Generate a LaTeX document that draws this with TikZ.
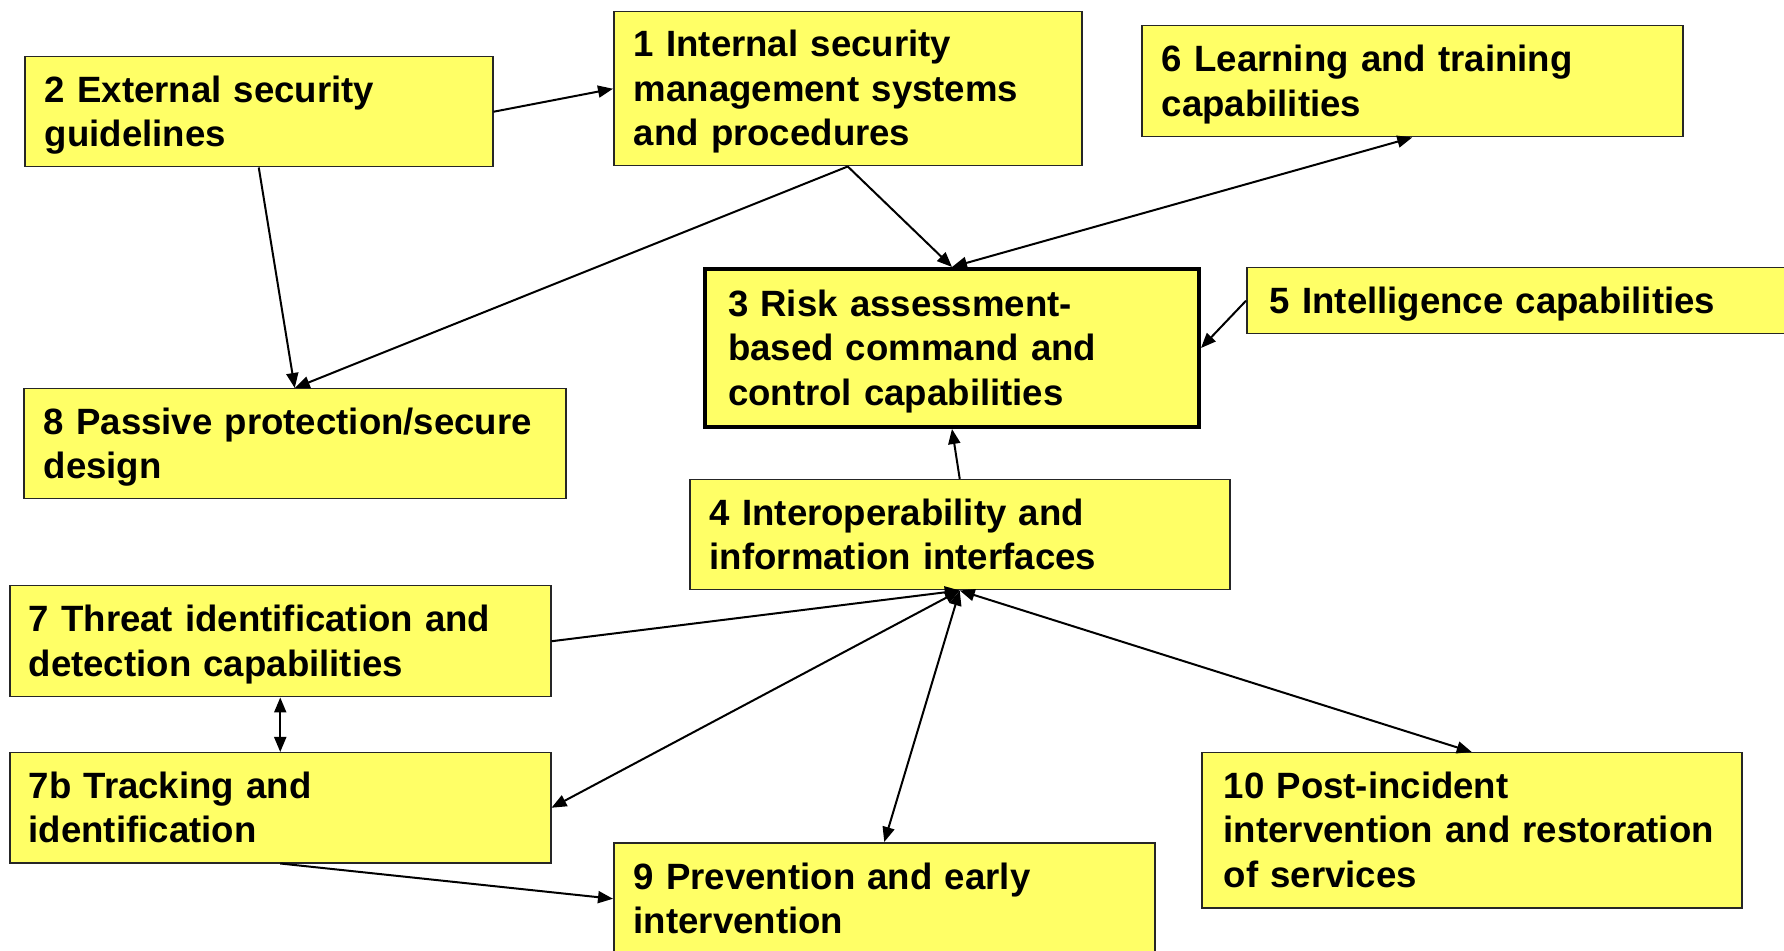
\documentclass[tikz,border=0pt]{standalone}
\usepackage{xcolor}
\usepackage{fontspec}
\setmainfont{Liberation Sans}
\usepackage{tikz}
\usetikzlibrary{arrows.meta}

\definecolor{boxyellow}{HTML}{FFFF66}

\begin{document}
\begin{tikzpicture}[x=0.5pt,y=-0.5pt,>={Triangle[length=7.5pt,width=6pt]}]
    \tikzstyle{block} = [rectangle, draw=black!85, line width=0.75pt, fill=boxyellow, anchor=north west, align=left, inner xsep=10pt, inner ysep=0pt, font=\fontsize{18.3pt}{22.25pt}\selectfont\bfseries,
        execute at begin node={\rule{0pt}{0.9em}}, execute at end node={\rule[-0.21em]{0pt}{0.21em}}]
    \tikzstyle{link} = [draw, line width=1pt]
    \useasboundingbox (0,0) rectangle (1784,951);
    % top row
    \node [block, text width=214pt, minimum height=55pt] (Ext) at (24,56) {2 External security\\guidelines};
    \node [block, text width=214pt, minimum height=77pt] (Int) at (613,11) {1 Internal security\\management systems\\and procedures};
    \node [block, text width=250.5pt, minimum height=55.5pt] (Learn) at (1141,25) {6 Learning and training\\capabilities};
    % middle
    \node [block, draw=black, line width=2pt, inner xsep=11.5pt, text width=224pt, minimum height=79pt] (Risk) at (703,267) {3 Risk assessment-\\based command and\\control capabilities};
    \node [block, inner xsep=11.5pt, text width=259pt, minimum height=33pt] (Intel) at (1246,267) {5 Intelligence capabilities};
    \node [block, text width=251pt, minimum height=55pt] (Pass) at (23,388) {8 Passive protection/secure\\design};
    \node [block, text width=250pt, minimum height=55pt] (Inter) at (689,479) {4 Interoperability and\\information interfaces};
    % bottom
    \node [block, inner xsep=9.5pt, text width=251.5pt, minimum height=55.5pt] (Threat) at (9,585) {7 Threat identification and\\detection capabilities};
    \node [block, inner xsep=9.5pt, text width=251.5pt, minimum height=55pt] (Track) at (9,752) {7b Tracking and\\identification};
    \node [block, text width=250.5pt, minimum height=56pt] (Prev) at (613,842) {9 Prevention and early\\intervention};
    \node [block, inner xsep=11pt, text width=248pt, minimum height=77.5pt] (Post) at (1201,752) {10 Post-incident\\intervention and restoration\\of services};

    \path [link, ->] (Ext.east) -- (Int.west);
    \path [link, ->] (Ext.south) -- (Pass.north);
    \path [link, ->] (Int.south) -- (Pass.north);
    \path [link, ->] (Int.south) -- (Risk.north);
    \path [link, <->] (Risk.north) -- (Learn.south);
    \path [link, ->] (Intel.west) -- (Risk.east);
    \path [link, ->] (Inter.north) -- (Risk.south);
    \path [link, ->] (Threat.east) -- (Inter.south);
    \path [link, <->] (Inter.south) -- (Track.east);
    \path [link, <->] (Inter.south) -- (Prev.north);
    \path [link, <->] (Inter.south) -- (Post.north);
    \path [link, <->] (Threat.south) -- (Track.north);
    \path [link, ->] (Track.south) -- (Prev.west);
%    \path [link, ->] (Threat.east) -- (Risk.south);
\end{tikzpicture}
\end{document}
